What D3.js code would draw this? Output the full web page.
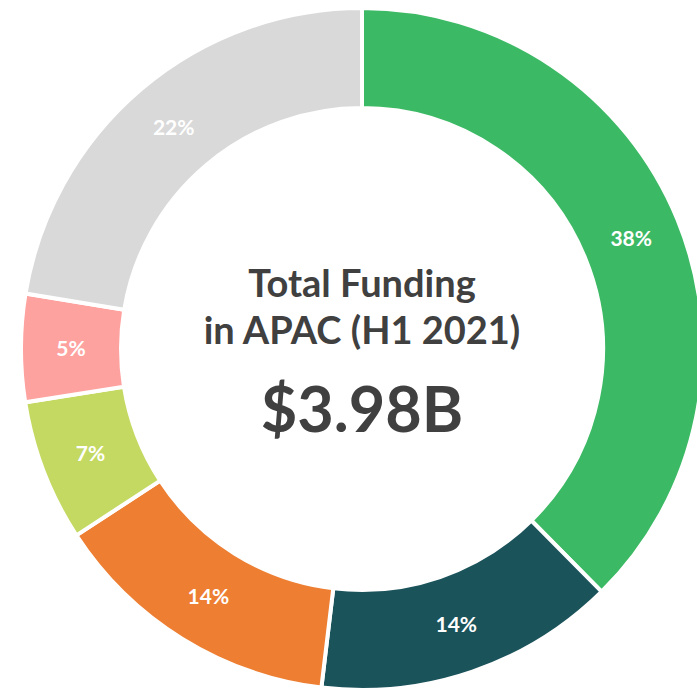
<!DOCTYPE html>
<html>
<head>
<meta charset="utf-8">
<script src="https://cdn.jsdelivr.net/npm/d3@7"></script>
<style>
  html, body { margin: 0; padding: 0; background: #fff; overflow: hidden; }
  svg { display: block; font-family: Lato, "Open Sans", sans-serif; }
</style>
</head>
<body>
<div class="container"></div>
<script>
(function(){

    // segments, clockwise from 12 o'clock (shares in %)
    var segments = ["Seg A", "Seg B", "Seg C", "Seg D", "Seg E", "Seg F"];
    var shares = [37.6, 14.3, 13.9, 6.7, 5.1, 22.4];
    var colors = ["#3cb964", "#1b535b", "#ed7e32", "#c4d961", "#fea2a0", "#d9d9d9"];

    var titleLines = ["Total Funding", "in APAC (H1 2021)"];
    var total = "$3.98B";

    var width = 697, height = 691;
    var cx = 362, cy = 349;
    var outer = 341, inner = 241;

    var svg = d3.select(".container").append("svg")
        .attr("width", width)
        .attr("height", height);

    var g = svg.append("g")
        .attr("transform", "translate(" + cx + "," + cy + ")");

    var pie = d3.pie()
        .sort(null)
        .value(function(d) { return d; });

    var arc = d3.arc()
        .innerRadius(inner)
        .outerRadius(outer);

    var arcs = pie(shares);

    g.selectAll("path")
        .data(arcs)
        .enter().append("path")
        .attr("d", arc)
        .style("fill", function(d, i) { return colors[i]; })
        .style("stroke", "#fff")
        .style("stroke-width", 4);

    g.selectAll("text.pct")
        .data(arcs)
        .enter().append("text")
        .attr("class", "pct")
        .attr("transform", function(d) { return "translate(" + arc.centroid(d) + ")"; })
        .attr("text-anchor", "middle")
        .attr("dy", "0.36em")
        .style("fill", "#fff")
        .style("font-size", "21px")
        .style("font-weight", "bold")
        .text(function(d) { return Math.round(d.value) + "%"; });

    g.selectAll("text.title")
        .data(titleLines)
        .enter().append("text")
        .attr("class", "title")
        .attr("text-anchor", "middle")
        .attr("y", function(d, i) { return -52 + i * 47; })
        .style("fill", "#404040")
        .style("font-size", "38px")
        .style("font-weight", "bold")
        .text(function(d) { return d; });

    g.append("text")
        .attr("text-anchor", "middle")
        .attr("y", 83)
        .style("fill", "#404040")
        .style("font-size", "63px")
        .style("font-weight", "bold")
        .text(total);

})();
</script>
</body>
</html>
